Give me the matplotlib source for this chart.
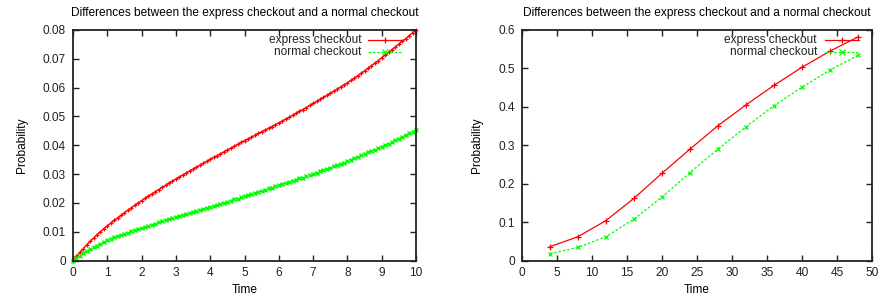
import numpy as np
import matplotlib
matplotlib.use("Agg")
import matplotlib.pyplot as plt
from matplotlib.ticker import FuncFormatter

plt.rcParams['font.family'] = ['Liberation Sans', 'DejaVu Sans']

# left panel: dense sampling, t = 0..10 step 0.1
t_dense = np.linspace(0, 10, 101)
express_dense = [
    0.0000, 0.0014, 0.0028, 0.0041, 0.0054, 0.0067, 0.0078, 0.0090, 0.0100, 0.0111,
    0.0120, 0.0130, 0.0139, 0.0148, 0.0157, 0.0166, 0.0175, 0.0183, 0.0192, 0.0200,
    0.0208, 0.0216, 0.0224, 0.0231, 0.0239, 0.0246, 0.0254, 0.0261, 0.0269, 0.0276,
    0.0283, 0.0290, 0.0297, 0.0304, 0.0311, 0.0317, 0.0324, 0.0331, 0.0338, 0.0344,
    0.0351, 0.0358, 0.0364, 0.0371, 0.0377, 0.0384, 0.0390, 0.0397, 0.0403, 0.0410,
    0.0416, 0.0422, 0.0428, 0.0434, 0.0441, 0.0447, 0.0453, 0.0459, 0.0465, 0.0472,
    0.0478, 0.0484, 0.0491, 0.0497, 0.0504, 0.0511, 0.0518, 0.0524, 0.0531, 0.0538,
    0.0545, 0.0552, 0.0559, 0.0566, 0.0573, 0.0580, 0.0588, 0.0595, 0.0602, 0.0610,
    0.0617, 0.0625, 0.0633, 0.0641, 0.0650, 0.0658, 0.0667, 0.0676, 0.0685, 0.0694,
    0.0704, 0.0713, 0.0722, 0.0732, 0.0741, 0.0751, 0.0761, 0.0770, 0.0780, 0.0790,
    0.0800,
]
normal_dense = [
    0.0000, 0.0009, 0.0017, 0.0025, 0.0032, 0.0039, 0.0046, 0.0052, 0.0058, 0.0064,
    0.0070, 0.0075, 0.0080, 0.0084, 0.0089, 0.0093, 0.0097, 0.0101, 0.0105, 0.0108,
    0.0112, 0.0116, 0.0120, 0.0124, 0.0128, 0.0132, 0.0136, 0.0140, 0.0144, 0.0147,
    0.0151, 0.0155, 0.0158, 0.0162, 0.0165, 0.0169, 0.0172, 0.0176, 0.0179, 0.0183,
    0.0186, 0.0190, 0.0193, 0.0197, 0.0201, 0.0204, 0.0208, 0.0212, 0.0215, 0.0219,
    0.0223, 0.0227, 0.0230, 0.0234, 0.0238, 0.0242, 0.0246, 0.0250, 0.0253, 0.0257,
    0.0261, 0.0265, 0.0269, 0.0273, 0.0277, 0.0281, 0.0285, 0.0288, 0.0292, 0.0296,
    0.0300, 0.0304, 0.0309, 0.0313, 0.0318, 0.0322, 0.0327, 0.0331, 0.0336, 0.0340,
    0.0345, 0.0350, 0.0355, 0.0360, 0.0365, 0.0370, 0.0375, 0.0380, 0.0385, 0.0390,
    0.0395, 0.0400, 0.0406, 0.0412, 0.0418, 0.0423, 0.0429, 0.0435, 0.0441, 0.0447,
    0.0453,
]

# right panel: t = 4..48 step 4
t_sparse = [4, 8, 12, 16, 20, 24, 28, 32, 36, 40, 44, 48]
express_sparse = [0.036, 0.062, 0.104, 0.162, 0.227, 0.290, 0.351, 0.405, 0.456, 0.503, 0.545, 0.582]
normal_sparse = [0.018, 0.034, 0.062, 0.108, 0.165, 0.229, 0.290, 0.348, 0.403, 0.451, 0.496, 0.534]

title = "Differences between the express checkout and a normal checkout"
labels = ["express checkout", "normal checkout"]
RED = "#ff0000"
GREEN = "#00ff00"
FS = 8.6

fig = plt.figure(figsize=(8.81, 3.01), dpi=100)
ax1 = fig.add_axes([73 / 881, 1 - 260.5 / 301, 343 / 881, 230.5 / 301])
ax2 = fig.add_axes([522 / 881, 1 - 260.5 / 301, 350 / 881, 230.5 / 301])

fmt = FuncFormatter(lambda v, p: "%g" % round(v, 6))


def style(ax, xmax, ymax, xstep, ystep):
    ax.set_xlim(0, xmax)
    ax.set_ylim(0, ymax)
    ax.set_xticks(np.arange(0, xmax + xstep / 2, xstep))
    ax.set_yticks(np.arange(0, ymax + ystep / 2, ystep))
    ax.xaxis.set_major_formatter(fmt)
    ax.yaxis.set_major_formatter(fmt)
    ax.tick_params(direction="in", top=True, right=True, length=4, width=1,
                   labelsize=FS, pad=5, colors="#222222")
    for s in ax.spines.values():
        s.set_linewidth(1.3)
        s.set_color("#222222")
    ax.set_title(title, fontsize=FS, pad=10)
    ax.set_xlabel("Time", fontsize=FS, labelpad=3)
    ax.set_ylabel("Probability", fontsize=FS, labelpad=11)


def legend(text_right, line_x0, line_x1, mk):
    rows = [(labels[0], RED, "-", mk[0], 40), (labels[1], GREEN, (0, (2, 1.5)), mk[1], 52)]
    for txt, col, ls, m, ypx in rows:
        yf = 1 - ypx / 301
        fig.text(text_right / 881, yf, txt, ha="right", va="center", fontsize=FS, color="#222222")
        fig.add_artist(plt.Line2D([line_x0 / 881, line_x1 / 881], [yf, yf], color=col,
                                  lw=0.9, ls=ls, transform=fig.transFigure))
        fig.add_artist(plt.Line2D([(line_x0 + line_x1) / 2 / 881], [yf], color=col, marker=m,
                                  ms=4.5, mew=0.9, ls="none", transform=fig.transFigure))


ax1.plot(t_dense, express_dense, color=RED, lw=1.0, marker="+", ms=3, mew=0.9, clip_on=False)
ax1.plot(t_dense, normal_dense, color=GREEN, lw=1.0, ls=(0, (2, 1.5)), marker="x", ms=3, mew=1.0, clip_on=False)
style(ax1, 10, 0.08, 1, 0.01)
legend(362, 368, 401, ["+", "x"])

ax2.plot(t_sparse, express_sparse, color=RED, lw=0.9, marker="+", ms=4.5, mew=0.9)
ax2.plot(t_sparse, normal_sparse, color=GREEN, lw=0.9, ls=(0, (2, 1.5)), marker="x", ms=3.5, mew=0.9)
style(ax2, 50, 0.6, 5, 0.1)
legend(817, 825, 859, ["+", "x"])

fig.savefig("out.png", dpi=100)
